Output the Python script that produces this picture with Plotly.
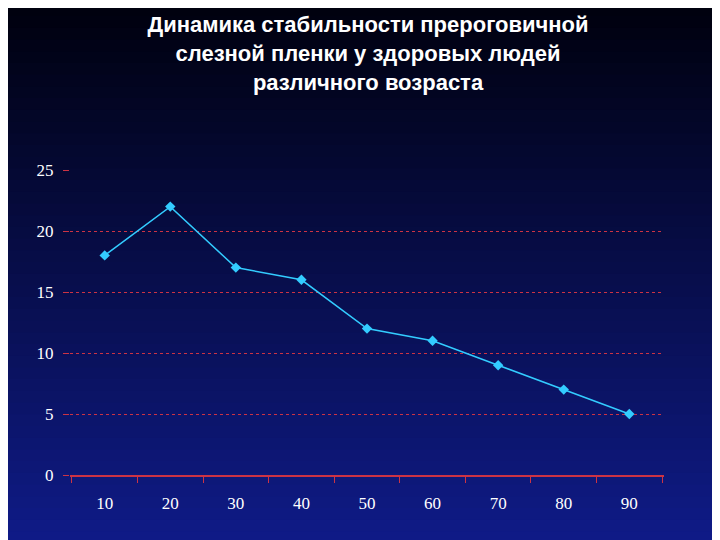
import plotly.graph_objects as go

ages = ["10", "20", "30", "40", "50", "60", "70", "80", "90"]
values = [18, 22, 17, 16, 12, 11, 9, 7, 5]
y_ticks = [0, 5, 10, 15, 20, 25]

fig = go.Figure()

# dark gradient background out of horizontal bands
n = 50
top, bottom = 1.62, -0.3
step = (top - bottom) / n
shapes = []
for i in range(n):
    t = i / (n - 1)
    r = int(0 + 16 * t)
    g = int(0 + 28 * t)
    b = int(10 + 130 * t)
    shapes.append(dict(type="rect", xref="paper", yref="paper", layer="below",
                       x0=-0.25, x1=1.25, y0=top - (i + 1) * step - 0.005, y1=top - i * step,
                       fillcolor=f"rgb({r},{g},{b})", line_width=0))

fig.add_trace(go.Scatter(
    x=ages, y=values, mode="lines+markers",
    line=dict(color="#33ccff", width=1.5),
    marker=dict(symbol="diamond", size=8, color="#33ccff"),
))

fig.update_layout(
    width=720, height=540,
    margin=dict(l=62, r=64, t=162, b=73),
    paper_bgcolor="#000010", plot_bgcolor="rgba(0,0,0,0)",
    shapes=shapes, showlegend=False,
    title=dict(text="Динамика стабильности прероговичной<br>слезной пленки у здоровых людей<br>различного возраста",
               x=0.5, y=0.955, yanchor="top",
               font=dict(family="Liberation Sans", size=22, color="white", weight="bold")),
    font=dict(family="Liberation Serif", size=17, color="white"),
)
fig.update_xaxes(type="category", showgrid=False, showline=True, linecolor="#cc3344", linewidth=2,
                 ticks="outside", tickcolor="#cc3344", ticklen=6, tickson="boundaries",
                 ticklabelstandoff=12)
fig.update_yaxes(range=[0, 25], tickvals=y_ticks, showgrid=True, gridcolor="#cc3344",
                 griddash="dot", gridwidth=1, zeroline=False, ticks="outside",
                 tickcolor="#cc3344", ticklen=6, ticklabelstandoff=6)

fig.write_html("out.html")
